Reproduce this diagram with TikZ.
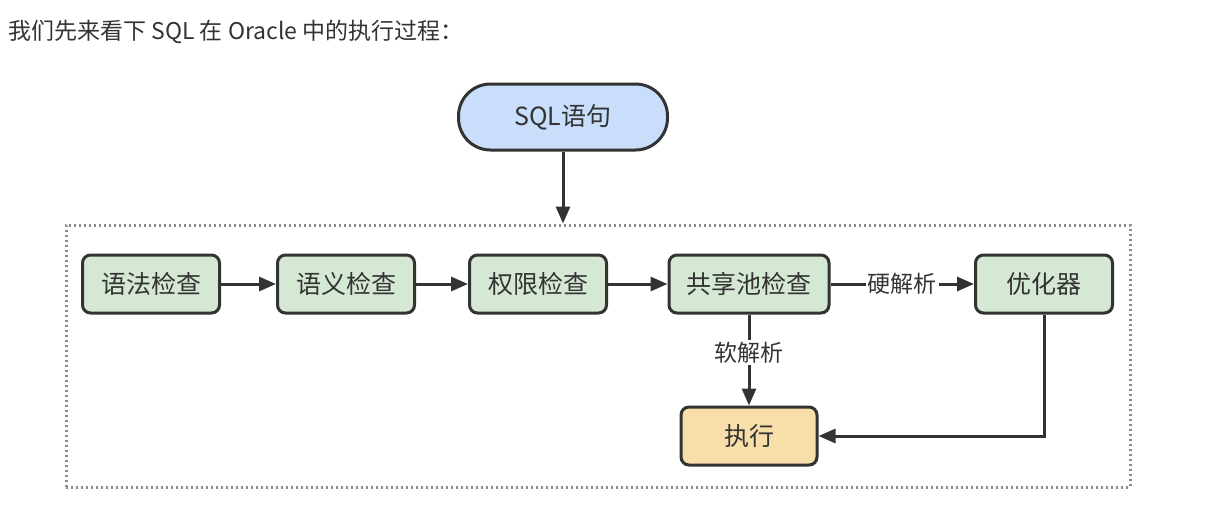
\documentclass[tikz,border=0pt]{standalone}
\usepackage{fontspec}
\setmainfont{Noto Sans CJK SC}
\usepackage{xcolor}
\definecolor{boxline}{RGB}{51,51,51}
\definecolor{sqlblue}{RGB}{200,222,250}
\definecolor{checkgreen}{RGB}{213,232,212}
\definecolor{execorange}{RGB}{248,222,168}
\definecolor{framegray}{RGB}{140,140,140}
\usetikzlibrary{arrows.meta, positioning, calc}

\begin{document}
\begin{tikzpicture}[
    x=0.5pt, y=-0.5pt,
    >={Triangle[length=8.5pt,width=7pt]},
    font=\fontsize{12.5pt}{14pt}\selectfont,
    text=boxline,
    check/.style={draw=boxline, rectangle, rounded corners=4pt, fill=checkgreen, minimum width=68.5pt, minimum height=29pt, align=center, line width=1.5pt},
    execbox/.style={draw=boxline, rectangle, rounded corners=4pt, fill=execorange, minimum width=68pt, minimum height=29pt, align=center, line width=1.5pt},
    startbox/.style={draw=boxline, rectangle, rounded corners=16pt, fill=sqlblue, minimum width=104.5pt, minimum height=33pt, align=center, line width=1.5pt},
    arr/.style={->, draw=boxline, line width=1.5pt},
    lbl/.style={fill=white, inner sep=1pt, font=\fontsize{11.5pt}{13pt}\selectfont}
  ]
  \useasboundingbox (0,0) rectangle (1209,511);

  % Title line
  \node (title) at (8,32) [anchor=west, inner sep=0pt, font=\fontsize{11.5pt}{13pt}\selectfont] {我们先来看下 SQL 在 Oracle 中的执行过程：};

  % Input and dotted frame
  \node (sql) at (563,117) [startbox] {SQL语句};
  \node (frame) at (598,356) [draw=framegray, dash pattern=on 1.2pt off 1.3pt, line width=1.5pt, minimum width=532pt, minimum height=131pt] {};

  % Check row
  \node (syntax) at (151,284) [check] {语法检查};
  \node (semantic) at (346,284) [check] {语义检查};
  \node (privilege) at (538,284) [check] {权限检查};
  \node (pool) at (749,284) [check, minimum width=80pt] {共享池检查};
  \node (optimizer) at (1044,284) [check] {优化器};

  % Execution
  \node (exec) at (749,436) [execbox] {执行};

  % Edges
  \draw[arr] (sql) -- (sql |- frame.north);
  \draw[arr] (syntax) -- (semantic);
  \draw[arr] (semantic) -- (privilege);
  \draw[arr] (privilege) -- (pool);
  \draw[arr] (pool) -- node[lbl] {硬解析} (optimizer);
  \draw[arr] (pool) -- node[lbl, pos=0.42] {软解析} (exec);
  \draw[arr] (optimizer.south) |- (exec.east);

\end{tikzpicture}
\end{document}
